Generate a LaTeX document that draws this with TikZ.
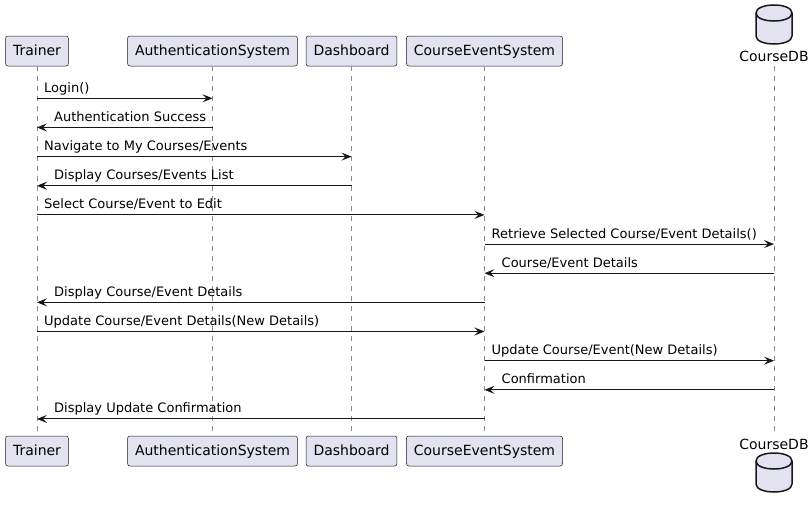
\documentclass[tikz,border=0pt]{standalone}
\usepackage{fontspec}
\setmainfont{DejaVu Sans}
\usetikzlibrary{arrows.meta,calc}
\definecolor{partfill}{HTML}{E2E2F0}
\definecolor{partline}{HTML}{181818}
\definecolor{lifegray}{HTML}{8A8A8A}
\tikzset{
  part/.style={draw=partline, fill=partfill, line width=0.5pt, rounded corners=2.5pt,
    minimum height=30pt, inner xsep=7.5pt, inner ysep=0pt, text height=10.5pt, text depth=2.5pt,
    font=\fontsize{14}{16}\selectfont},
  dblabel/.style={inner sep=0pt, text height=10.5pt, text depth=2.5pt, font=\fontsize{14}{16}\selectfont},
  lifeline/.style={draw=lifegray, line width=0.7pt, dash pattern=on 5pt off 5pt},
  msg/.style={draw=partline, line width=1pt, -{Stealth[length=10pt,width=8pt,inset=4pt]}},
  lbl/.style={inner sep=0pt, anchor=base west, font=\fontsize{13}{15}\selectfont},
  dbbody/.style={draw=partline, fill=partfill, line width=1.5pt},
}
\newcommand\mydbcyl[2]{% center x, top y
  \path[dbbody] (#1-18,#2+8) .. controls (#1-18,#2-2.67) and (#1+18,#2-2.67) .. (#1+18,#2+8)
    -- (#1+18,#2+31) .. controls (#1+18,#2+41.67) and (#1-18,#2+41.67) .. (#1-18,#2+31) -- cycle;
  \draw[partline, line width=1.5pt] (#1-18,#2+8) .. controls (#1-18,#2+18.67) and (#1+18,#2+18.67) .. (#1+18,#2+8);
}
\newcommand\rmsg[4]{% from, to, row, text (left to right)
  \draw[msg] (#1 |- m#3) -- (#2 |- m#3);
  \node[lbl] at ($(#1 |- m#3)+(7,-6)$) {#4};
}
\newcommand\lmsg[4]{% from (right), to (left), row, text
  \draw[msg] (#1 |- m#3) -- (#2 |- m#3);
  \node[lbl] at ($(#2 |- m#3)+(17,-6)$) {#4};
}
\begin{document}
\begin{tikzpicture}[x=1pt,y=-1pt]
\useasboundingbox[fill=white] (0,0) rectangle (812,514);
% top participants
\node[part] (trT) at (37,51) {Trainer};
\node[part] (auT) at (212.5,51) {AuthenticationSystem};
\node[part] (daT) at (351.5,51) {Dashboard};
\node[part] (ceT) at (484.5,51) {CourseEventSystem};
\mydbcyl{774}{5}
\node[dblabel] (dbT) at (774,57) {CourseDB};
% bottom participants
\node[part] (trB) at (37,451) {Trainer};
\node[part] (auB) at (212.5,451) {AuthenticationSystem};
\node[part] (daB) at (351.5,451) {Dashboard};
\node[part] (ceB) at (484.5,451) {CourseEventSystem};
\node[dblabel] (dbB) at (774,445) {CourseDB};
\mydbcyl{774}{453}
% lifelines
\coordinate (dbTop) at (774,66);
\coordinate (dbBot) at (774,435);
\draw[lifeline] (trT.south) -- (trB.north);
\draw[lifeline] (auT.south) -- (auB.north);
\draw[lifeline] (daT.south) -- (daB.north);
\draw[lifeline] (ceT.south) -- (ceB.north);
\draw[lifeline] (dbTop) -- (dbBot);
% message rows
\foreach \i in {1,...,12} {
  \coordinate (m\i) at (0,{98.3+29.15*(\i-1)});
}
% messages
\rmsg{trT}{auT}{1}{Login()}
\lmsg{auT}{trT}{2}{Authentication Success}
\rmsg{trT}{daT}{3}{Navigate to My Courses/Events}
\lmsg{daT}{trT}{4}{Display Courses/Events List}
\rmsg{trT}{ceT}{5}{Select Course/Event to Edit}
\rmsg{ceT}{dbTop}{6}{Retrieve Selected Course/Event Details()}
\lmsg{dbTop}{ceT}{7}{Course/Event Details}
\lmsg{ceT}{trT}{8}{Display Course/Event Details}
\rmsg{trT}{ceT}{9}{Update Course/Event Details(New Details)}
\rmsg{ceT}{dbTop}{10}{Update Course/Event(New Details)}
\lmsg{dbTop}{ceT}{11}{Confirmation}
\lmsg{ceT}{trT}{12}{Display Update Confirmation}
\end{tikzpicture}
\end{document}
